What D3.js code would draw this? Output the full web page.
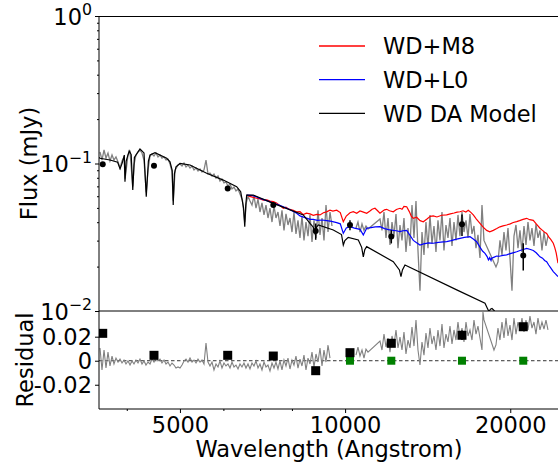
<!DOCTYPE html>
<html>
<head>
<meta charset="utf-8">
<script src="https://cdn.jsdelivr.net/npm/d3@7"></script>
<style>
  body { margin: 0; background: #fff; }
  text { font-family: "DejaVu Sans", sans-serif; }
</style>
</head>
<body>
<div id="chart"></div>
<script>
// observed spectrum, optical arm [wavelength (A), flux (mJy)]
const obsOptical = [
  [3575,0.1197],[3605,0.1056],[3636,0.1235],[3666,0.1089],[3697,0.1178],[3728,0.1039],[3760,0.1142],[3791,0.1056],
  [3823,0.1107],[3856,0.1024],[3888,0.0932],[3921,0.1039],[3954,0.1107],[3972,0.0790],[4021,0.1142],[4055,0.1197],
  [4102,0.0700],[4123,0.0977],[4158,0.1142],[4193,0.1197],[4228,0.1235],[4264,0.1178],[4300,0.1050],[4341,0.0640],
  [4373,0.0900],[4410,0.1124],[4447,0.1160],[4484,0.1124],[4522,0.1178],[4560,0.1107],[4599,0.1142],[4637,0.1089],
  [4677,0.1107],[4716,0.1056],[4756,0.1072],[4796,0.0992],[4836,0.0880],[4861,0.0560],[4900,0.0900],[4960,0.0977],
  [5001,0.0992],[5044,0.0961],[5086,0.1008],[5129,0.0947],[5172,0.0977],[5216,0.0932],[5260,0.0961],[5304,0.0904],
  [5349,0.0932],[5394,0.0890],[5439,0.0918],[5485,0.0876],[5531,0.0904],[5578,0.1056],[5625,0.0849],[5672,0.0862],
  [5720,0.0823],[5768,0.0849],[5817,0.0797],[5866,0.0823],[5915,0.0761],[5965,0.0785],[6015,0.0738],[6066,0.0749],
  [6117,0.0704],[6169,0.0726],[6221,0.0672],[6273,0.0693],[6326,0.0651],[6380,0.0672],[6433,0.0621],[6500,0.0564],
  [6563,0.0400],[6610,0.0548],[6653,0.0602],[6709,0.0557],[6765,0.0523],[6822,0.0602],[6880,0.0499],[6938,0.0574],
  [6996,0.0469],[7055,0.0540],[7115,0.0448],[7175,0.0523],[7235,0.0427],[7296,0.0499],[7358,0.0401],[7420,0.0515],
  [7482,0.0427],[7545,0.0469],[7609,0.0377],[7673,0.0482],[7738,0.0352],[7803,0.0455],[7869,0.0383],[7935,0.0427],
  [8002,0.0343],[8069,0.0469],[8137,0.0333],[8206,0.0412],[8275,0.0313],[8345,0.0441],[8415,0.0301],[8486,0.0401],
  [8558,0.0322],[8630,0.0448],[8703,0.0294],[8776,0.0412],[8850,0.0313],[8925,0.0482],[9000,0.0328],[9076,0.0427],
  [9152,0.0301],[9230,0.0523],[9308,0.0343],[9386,0.0469],[9465,0.0377]
];

// observed spectrum, near-infrared arm
const obsNIR = [
  [10467,0.0365],[10555,0.0401],[10645,0.0343],[10735,0.0389],[10825,0.0352],[10916,0.0377],[11008,0.0360],
  [11577,0.0420],[11674,0.0352],[11773,0.0469],[11872,0.0313],[11972,0.0427],[12073,0.0280],[12175,0.0401],
  [12277,0.0322],[12381,0.0455],[12485,0.0267],[12590,0.0383],[12696,0.0301],[12803,0.0427],[12911,0.0251],
  [13020,0.0365],[13130,0.0276],[13241,0.0523],[13352,0.0313],[13465,0.0557],[13578,0.0257],[13692,0.0137],
  [13808,0.0343],[13924,0.0240],[14041,0.0401],[14160,0.0267],[14279,0.0448],[14400,0.0285],[14521,0.0377],
  [14643,0.0251],[14767,0.0412],[14891,0.0301],[15017,0.0469],[15143,0.0257],[15271,0.0383],[15400,0.0313],
  [15530,0.0427],[15661,0.0276],[15793,0.0401],[15926,0.0301],[16060,0.0448],[16195,0.0322],[16332,0.0469],
  [16470,0.0343],[16609,0.0412],[16749,0.0313],[16889,0.0455],[17032,0.0333],[17175,0.0377],[17320,0.0267],
  [17466,0.0328],[17613,0.0229],[17762,0.0523],[17911,0.0301],[18836,0.0199],[18995,0.0215],[19155,0.0301],
  [19317,0.0240],[19480,0.0343],[19644,0.0257],[19810,0.0365],[19976,0.0229],[20145,0.0137],[20315,0.0322],
  [20486,0.0383],[20659,0.0267],[20832,0.0352],[21008,0.0251],[21185,0.0377],[21364,0.0280],[21544,0.0401],
  [21725,0.0301],[21908,0.0365],[22093,0.0276],[22279,0.0389],[22467,0.0313],[22656,0.0352],[22847,0.0257],
  [23040,0.0343],[23234,0.0276],[23430,0.0322]
];

// composite models
const m8Model = [
  [6617,0.0611],[6700,0.0598],[6803,0.0590],[6900,0.0581],[7000,0.0575],[7094,0.0564],[7200,0.0566],[7300,0.0556],
  [7398,0.0551],[7500,0.0540],[7600,0.0520],[7716,0.0497],[7800,0.0505],[7900,0.0490],[8046,0.0482],[8150,0.0470],
  [8275,0.0471],[8391,0.0450],[8500,0.0460],[8630,0.0455],[8750,0.0445],[8880,0.0452],[9000,0.0448],[9130,0.0464],
  [9250,0.0470],[9385,0.0482],[9500,0.0476],[9653,0.0482],[9800,0.0465],[9925,0.0403],[10050,0.0440],[10207,0.0464],
  [10350,0.0472],[10500,0.0460],[10645,0.0477],[10800,0.0468],[10948,0.0460],[11100,0.0476],[11200,0.0490],
  [11336,0.0497],[11450,0.0480],[11577,0.0460],[11700,0.0474],[11800,0.0485],[11907,0.0489],[12050,0.0478],
  [12242,0.0471],[12400,0.0488],[12590,0.0497],[12700,0.0489],[12800,0.0512],[12949,0.0509],[13100,0.0470],
  [13200,0.0440],[13314,0.0425],[13500,0.0432],[13700,0.0410],[13884,0.0403],[14100,0.0420],[14300,0.0438],
  [14479,0.0441],[14700,0.0434],[15000,0.0446],[15316,0.0448],[15550,0.0456],[15800,0.0462],[16000,0.0468],
  [16195,0.0471],[16400,0.0478],[16600,0.0469],[16770,0.0482],[16950,0.0466],[17126,0.0448],[17350,0.0420],
  [17613,0.0393],[17850,0.0370],[18115,0.0352],[18350,0.0344],[18625,0.0352],[18900,0.0362],[19155,0.0372],
  [19400,0.0378],[19701,0.0383],[20000,0.0390],[20250,0.0398],[20546,0.0404],[20800,0.0410],[21100,0.0418],
  [21426,0.0425],[21700,0.0416],[22029,0.0412],[22300,0.0390],[22656,0.0364],[22900,0.0352],[23100,0.0342],
  [23302,0.0336],[23500,0.0318],[23700,0.0306],[23958,0.0288],[24100,0.0270],[24250,0.0248],[24435,0.0211]
];

const l0Model = [
  [6617,0.0611],[6803,0.0605],[7000,0.0580],[7195,0.0560],[7400,0.0540],[7600,0.0520],[7716,0.0509],[7850,0.0495],
  [8000,0.0478],[8161,0.0460],[8275,0.0441],[8450,0.0430],[8630,0.0418],[8751,0.0418],[8900,0.0412],[9100,0.0414],
  [9256,0.0410],[9450,0.0405],[9653,0.0397],[9800,0.0390],[9925,0.0336],[10050,0.0365],[10207,0.0373],
  [10400,0.0365],[10645,0.0358],[10794,0.0328],[10948,0.0364],[11150,0.0368],[11350,0.0372],[11577,0.0373],
  [11800,0.0362],[12000,0.0356],[12242,0.0352],[12400,0.0350],[12590,0.0345],[12750,0.0350],[12949,0.0352],
  [13100,0.0330],[13314,0.0301],[13500,0.0290],[13692,0.0280],[13900,0.0285],[14200,0.0290],[14479,0.0288],
  [14800,0.0292],[15100,0.0294],[15316,0.0295],[15600,0.0300],[15900,0.0306],[16195,0.0311],[16500,0.0316],
  [16889,0.0319],[17126,0.0308],[17371,0.0295],[17600,0.0272],[17800,0.0255],[17987,0.0246],[18150,0.0234],
  [18250,0.0222],[18350,0.0230],[18450,0.0220],[18500,0.0228],[18700,0.0232],[18892,0.0236],[19100,0.0235],
  [19400,0.0238],[19701,0.0240],[20000,0.0245],[20300,0.0249],[20546,0.0252],[20900,0.0258],[21200,0.0262],
  [21426,0.0266],[21700,0.0262],[22029,0.0257],[22300,0.0248],[22656,0.0233],[22900,0.0228],[23100,0.0220],
  [23302,0.0216],[23500,0.0205],[23700,0.0196],[23958,0.0185],[24200,0.0178],[24435,0.0171]
];

// white dwarf DA model
const wdModel = [
  [3560,0.1100],[3575,0.1085],[3728,0.1056],[3850,0.1020],[3889,0.0920],[3925,0.1010],[3959,0.1140],[3970,0.0752],
  [3990,0.1040],[4041,0.1220],[4075,0.1150],[4102,0.0661],[4130,0.1100],[4228,0.1254],[4300,0.1180],[4341,0.0596],
  [4380,0.1040],[4410,0.1142],[4503,0.1184],[4730,0.1085],[4796,0.1028],[4840,0.0900],[4861,0.0523],[4885,0.0850],
  [4918,0.0951],[5001,0.1001],[5216,0.0977],[5594,0.0858],[5997,0.0772],[6344,0.0696],[6452,0.0644],[6530,0.0500],
  [6563,0.0373],[6590,0.0520],[6617,0.0611],[6803,0.0611],[7398,0.0537],[8391,0.0448],[8630,0.0393],[8750,0.0370],
  [8813,0.0336],[8870,0.0370],[8936,0.0383],[9517,0.0354],[9850,0.0330],[9925,0.0280],[9990,0.0300],[10132,0.0316],
  [10570,0.0303],[10720,0.0270],[10794,0.0233],[10860,0.0260],[10947,0.0273],[12242,0.0216],[12560,0.0190],
  [12643,0.0171],[12720,0.0190],[12857,0.0205],[15975,0.0139],[17987,0.01128],[18173,0.0104],[18290,0.0099],
  [18406,0.0103],[18522,0.0104],[18679,0.0101],[18840,0.0096],[19000,0.0093],[20832,0.0080],[24400,0.0066]
];

// photometry
const photWave = [3616, 4484, 6110, 7398, 8839, 10207, 12140, 16332, 21120];
const photFlux = [0.0988, 0.0967, 0.0678, 0.0523, 0.0348, 0.0383, 0.0320, 0.0387, 0.0238];
const photErr = [0, 0, 0, 0, 0.0044, 0.0030, 0.0033, 0.0064, 0.0050];
const photResid = [0.0228, 0.0045, 0.0045, 0.0039, -0.0083, 0.0067, 0.0145, 0.0212, 0.0283];
const photResidErr = [0, 0, 0, 0, 0, 0, 0.002, 0.004, 0.003];
const nirWave = [10207, 12140, 16332, 21120];
const nirResid = [0, 0, 0, 0];

// residual spectrum
const residOptical = [
  [3575,0.0106],[3605,-0.0077],[3636,0.0089],[3666,-0.0061],[3697,0.0072],[3728,-0.0044],[3760,0.0039],[3791,-0.0027],
  [3823,0.0022],[3856,-0.0011],[3888,0.0014],[3921,-0.0019],[3954,0.0006],[3987,-0.0027],[4021,-0.0002],[4055,-0.0036],
  [4089,-0.0002],[4123,-0.0027],[4158,0.0006],[4193,-0.0019],[4228,0.0014],[4264,-0.0027],[4300,-0.0002],[4336,-0.0036],
  [4373,-0.0011],[4410,-0.0027],[4447,0.0014],[4484,-0.0011],[4522,0.0031],[4560,-0.0002],[4599,0.0014],[4637,-0.0019],
  [4677,0.0006],[4716,-0.0027],[4756,-0.0011],[4796,-0.0044],[4836,-0.0019],[4877,-0.0036],[4918,-0.0061],[4960,-0.0052],
  [5001,-0.0061],[5044,-0.0036],[5086,-0.0002],[5129,0.0014],[5172,-0.0011],[5216,0.0022],[5260,-0.0011],[5304,0.0006],
  [5349,-0.0019],[5394,0.0014],[5439,-0.0011],[5485,0.0006],[5531,-0.0027],[5578,0.0147],[5625,-0.0011],[5672,-0.0044],
  [5720,-0.0011],[5768,-0.0077],[5817,-0.0027],[5866,-0.0052],[5915,-0.0002],[5965,-0.0061],[6015,-0.0019],[6066,-0.0044],
  [6117,-0.0027],[6169,-0.0061],[6221,-0.0011],[6273,-0.0052],[6326,-0.0036],[6380,-0.0069],[6433,-0.0027],[6487,-0.0052],
  [6542,-0.0019],[6597,-0.0061],[6653,-0.0027],[6709,-0.0069],[6765,-0.0019],[6822,-0.0044],[6880,-0.0002],[6938,-0.0061],
  [6996,-0.0027],[7055,-0.0077],[7115,-0.0011],[7175,-0.0052],[7235,-0.0036],[7296,-0.0086],[7358,-0.0019],[7420,-0.0061],
  [7482,-0.0011],[7545,-0.0069],[7609,-0.0002],[7673,-0.0077],[7738,0.0006],[7803,-0.0044],[7869,0.0022],[7935,-0.0069],
  [8002,0.0006],[8069,-0.0036],[8137,0.0039],[8206,-0.0061],[8275,0.0014],[8345,-0.0044],[8415,0.0047],[8486,-0.0077],
  [8558,0.0022],[8630,-0.0027],[8703,0.0072],[8776,-0.0052],[8850,0.0056],[8925,-0.0011],[9000,0.0106],[9076,-0.0044],
  [9152,0.0089],[9230,-0.0011],[9308,0.0131],[9386,0.0022]
];

const residNIR = [
  [10467,0.0047],[10555,0.0114],[10645,0.0039],[10735,0.0089],[10825,0.0022],[10916,0.0097],[11008,0.0072],
  [11577,0.0164],[11674,0.0089],[11773,0.0222],[11872,0.0114],[11972,0.0189],[12073,0.0072],[12175,0.0206],
  [12277,0.0131],[12381,0.0256],[12485,0.0106],[12590,0.0197],[12696,0.0089],[12803,0.0239],[12911,0.0056],
  [13020,0.0172],[13130,0.0106],[13241,0.0281],[13352,0.0122],[13465,0.0339],[13578,0.0089],[13692,-0.0036],
  [13808,0.0156],[13924,0.0047],[14041,0.0231],[14160,0.0106],[14279,0.0272],[14400,0.0139],[14521,0.0206],
  [14643,0.0089],[14767,0.0256],[14891,0.0122],[15017,0.0306],[15143,0.0106],[15271,0.0222],[15400,0.0156],
  [15530,0.0289],[15661,0.0139],[15793,0.0256],[15926,0.0172],[16060,0.0322],[16195,0.0189],[16332,0.0272],
  [16470,0.0156],[16609,0.0322],[16749,0.0206],[16889,0.0256],[17032,0.0172],[17175,0.0339],[17320,0.0222],
  [17466,0.0289],[17613,0.0189],[17762,0.0089],[17836,0.0406],[17911,0.0340],[18679,0.0089],[18836,0.0131],
  [18995,0.0272],[19155,0.0172],[19317,0.0322],[19480,0.0189],[19644,0.0356],[19810,0.0206],[19976,0.0297],
  [20145,0.0172],[20315,0.0356],[20486,0.0222],[20659,0.0322],[20832,0.0256],[21008,0.0356],[21185,0.0239],
  [21364,0.0339],[21544,0.0256],[21725,0.0372],[21908,0.0272],[22093,0.0322],[22279,0.0222],[22467,0.0356],
  [22656,0.0256],[22847,0.0322],[23040,0.0264],[23234,0.0339],[23430,0.0256]
];

// axes ticks and legend
const xTicks = [5000, 10000, 20000];
const xMinorTicks = [4000, 6000, 7000, 8000];
const fluxTicks = [0.01, 0.1, 1];
const fluxTickExp = ["\u22122", "\u22121", "0"];
const fluxMinorTicks = [0.02, 0.03, 0.04, 0.05, 0.06, 0.07, 0.08, 0.09, 0.2, 0.3, 0.4, 0.5, 0.6, 0.7, 0.8, 0.9];
const residTicks = [-0.02, 0, 0.02];
const residTickLabels = ["-0.02", "0", "0.02"];
const legendLabels = ["WD+M8", "WD+L0", "WD DA Model"];
const legendColors = ["#ff0000", "#0000ff", "#000000"];

const W = 558, H = 463;
const fontSize = 22.5;
const pLeft = 99, pRight = 580, pTop = 16, pMid = 311, pBottom = 409;

const svg = d3.select("#chart").append("svg")
  .attr("width", W)
  .attr("height", H);

const x = d3.scaleLog().domain([3560, 26800]).range([pLeft, pRight]);
const yFlux = d3.scaleLog().domain([0.01, 1]).range([pMid, pTop]);
const yRes = d3.scaleLinear().domain([-0.0402, 0.0414]).range([pBottom, pMid]);

// clip regions for the two panels
const defs = svg.append("defs");
defs.append("clipPath").attr("id", "clip-top")
  .append("rect").attr("x", pLeft).attr("y", pTop).attr("width", pRight - pLeft).attr("height", pMid - pTop);
defs.append("clipPath").attr("id", "clip-res")
  .append("rect").attr("x", pLeft).attr("y", pMid).attr("width", pRight - pLeft).attr("height", pBottom - pMid);

const topG = svg.append("g").attr("clip-path", "url(#clip-top)");
const resG = svg.append("g").attr("clip-path", "url(#clip-res)");

const fluxLine = d3.line().x(d => x(d[0])).y(d => yFlux(d[1]));
const resLine = d3.line().x(d => x(d[0])).y(d => yRes(d[1]));

// spectrum + models
[obsOptical, obsNIR].forEach(seg => {
  topG.append("path").datum(seg)
    .attr("d", fluxLine)
    .attr("fill", "none")
    .attr("stroke", "#808080")
    .attr("stroke-width", 1.3);
});

[[m8Model, legendColors[0]], [l0Model, legendColors[1]], [wdModel, legendColors[2]]].forEach(([data, color]) => {
  topG.append("path").datum(data)
    .attr("d", fluxLine)
    .attr("fill", "none")
    .attr("stroke", color)
    .attr("stroke-width", 1.2);
});

// photometry with error bars
photWave.forEach((w, i) => {
  if (photErr[i] > 0) {
    topG.append("line")
      .attr("x1", x(w)).attr("x2", x(w))
      .attr("y1", yFlux(photFlux[i] - photErr[i]))
      .attr("y2", yFlux(photFlux[i] + photErr[i]))
      .attr("stroke", "#000")
      .attr("stroke-width", 1.5);
  }
  topG.append("circle")
    .attr("cx", x(w))
    .attr("cy", yFlux(photFlux[i]))
    .attr("r", 3)
    .attr("fill", "#000");
});

// residual panel
resG.append("line")
  .attr("x1", pLeft).attr("x2", pRight)
  .attr("y1", yRes(0)).attr("y2", yRes(0))
  .attr("stroke", "#333")
  .attr("stroke-width", 1)
  .attr("stroke-dasharray", "3.5,2.5");

[residOptical, residNIR].forEach(seg => {
  resG.append("path").datum(seg)
    .attr("d", resLine)
    .attr("fill", "none")
    .attr("stroke", "#808080")
    .attr("stroke-width", 1.1);
});

nirWave.forEach((w, i) => {
  resG.append("rect")
    .attr("x", x(w) - 4).attr("y", yRes(nirResid[i]) - 4)
    .attr("width", 8).attr("height", 8)
    .attr("fill", "#008000");
});

photWave.forEach((w, i) => {
  if (photResidErr[i] > 0) {
    resG.append("line")
      .attr("x1", x(w)).attr("x2", x(w))
      .attr("y1", yRes(photResid[i] - photResidErr[i]))
      .attr("y2", yRes(photResid[i] + photResidErr[i]))
      .attr("stroke", "#000")
      .attr("stroke-width", 1.5);
  }
  resG.append("rect")
    .attr("x", x(w) - 4.5).attr("y", yRes(photResid[i]) - 4.5)
    .attr("width", 9).attr("height", 9)
    .attr("fill", "#000");
});

// spines
svg.append("line").attr("x1", pLeft).attr("x2", W).attr("y1", pTop + 0.5).attr("y2", pTop + 0.5)
  .attr("stroke", "#000").attr("stroke-width", 1);
svg.append("line").attr("x1", pLeft).attr("x2", pLeft).attr("y1", pTop).attr("y2", pBottom)
  .attr("stroke", "#000").attr("stroke-width", 1);
svg.append("line").attr("x1", pLeft).attr("x2", W).attr("y1", pMid).attr("y2", pMid)
  .attr("stroke", "#000").attr("stroke-width", 1);
svg.append("line").attr("x1", pLeft).attr("x2", W).attr("y1", pBottom).attr("y2", pBottom)
  .attr("stroke", "#000").attr("stroke-width", 1);

// tick helpers
function styleAxis(g) {
  g.select(".domain").remove();
  g.selectAll(".tick line").attr("stroke", "#000").attr("stroke-width", 1);
  g.selectAll(".tick text")
    .attr("font-family", "DejaVu Sans")
    .attr("font-size", fontSize)
    .attr("fill", "#000");
}

// flux axis (log, labels 10^n)
const fluxAxis = svg.append("g")
  .attr("transform", `translate(${pLeft},0)`)
  .call(d3.axisLeft(yFlux).tickValues(fluxTicks).tickSize(4).tickPadding(3).tickFormat(""))
  .call(styleAxis);
fluxAxis.selectAll(".tick").each(function (d, i) {
  const t = d3.select(this).select("text")
    .attr("dy", "0.36em")
    .attr("text-anchor", "end");
  t.text(null);
  t.append("tspan").text("10");
  t.append("tspan").attr("font-size", fontSize * 0.7).attr("dy", "-0.6em").text(fluxTickExp[i]);
});
svg.append("g")
  .attr("transform", `translate(${pLeft},0)`)
  .call(d3.axisLeft(yFlux).tickValues(fluxMinorTicks).tickSize(2).tickFormat(""))
  .call(styleAxis);

// residual axis
svg.append("g")
  .attr("transform", `translate(${pLeft},0)`)
  .call(d3.axisLeft(yRes).tickValues(residTicks).tickSize(4).tickPadding(3)
    .tickFormat((d, i) => residTickLabels[i]))
  .call(styleAxis)
  .selectAll(".tick text").attr("dy", "0.36em");

// wavelength axis
svg.append("g")
  .attr("transform", `translate(0,${pBottom})`)
  .call(d3.axisBottom(x).tickValues(xTicks).tickSize(4).tickPadding(4).tickFormat(d3.format("d")))
  .call(styleAxis);
svg.append("g")
  .attr("transform", `translate(0,${pBottom})`)
  .call(d3.axisBottom(x).tickValues(xMinorTicks).tickSize(2).tickFormat(""))
  .call(styleAxis);

// axis labels
svg.append("text")
  .attr("x", 329).attr("y", 457)
  .attr("text-anchor", "middle")
  .attr("font-size", fontSize)
  .text("Wavelength (Angstrom)");

svg.append("text")
  .attr("transform", `translate(37,${(pTop + pMid) / 2}) rotate(-90)`)
  .attr("text-anchor", "middle")
  .attr("font-size", fontSize)
  .text("Flux (mJy)");

svg.append("text")
  .attr("transform", `translate(33,${(pMid + pBottom) / 2}) rotate(-90)`)
  .attr("text-anchor", "middle")
  .attr("font-size", fontSize)
  .text("Residual");

// legend
const legend = svg.append("g");
legendLabels.forEach((label, i) => {
  const cy = 46 + i * 33.7;
  legend.append("line")
    .attr("x1", 319).attr("x2", 365)
    .attr("y1", cy).attr("y2", cy)
    .attr("stroke", legendColors[i])
    .attr("stroke-width", 1.3);
  legend.append("text")
    .attr("x", 383).attr("y", cy)
    .attr("dy", "0.36em")
    .attr("font-size", fontSize)
    .text(label);
});
</script>
</body>
</html>
